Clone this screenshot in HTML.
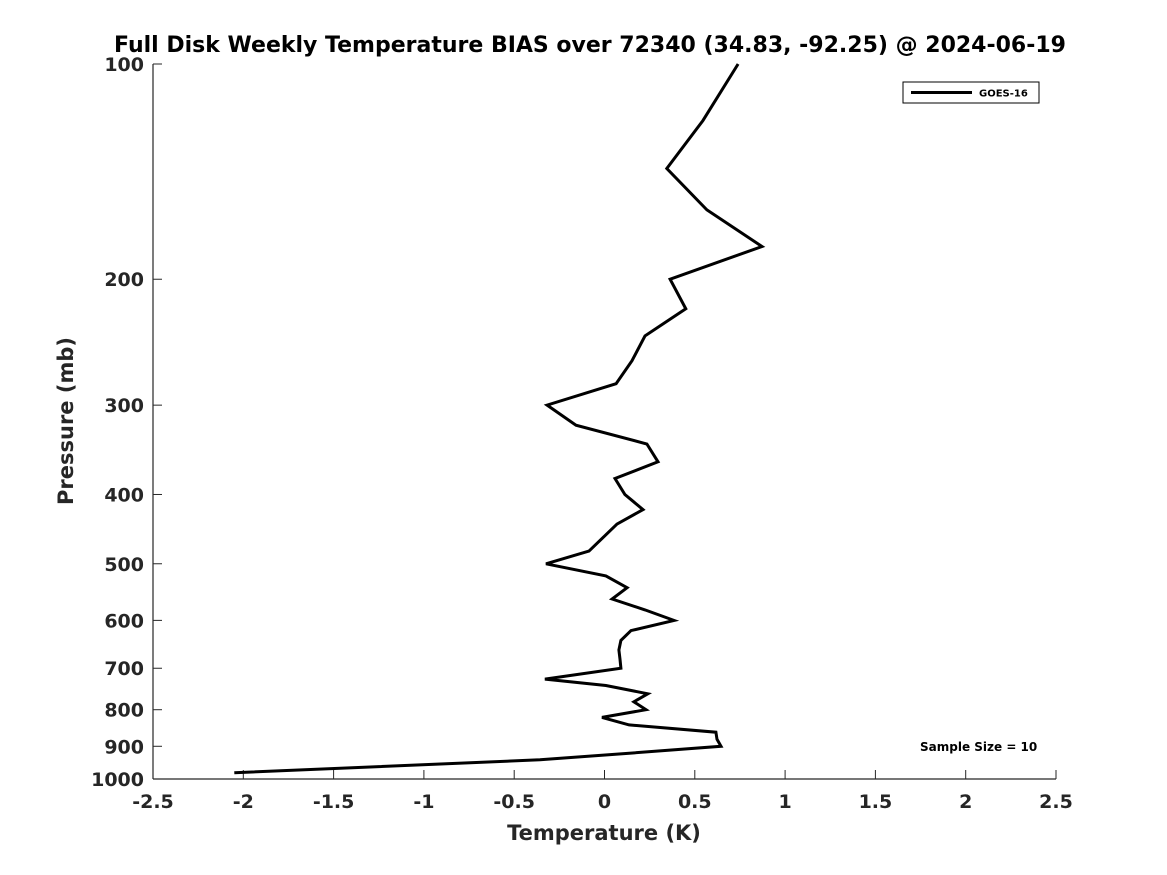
<!DOCTYPE html>
<html><head><meta charset="utf-8"><style>
body{margin:0;background:#fff;}
svg{display:block;font-family:"DejaVu Sans","Liberation Sans",sans-serif;font-weight:bold;}
</style></head><body>
<svg id="c" width="1167" height="875" xmlns="http://www.w3.org/2000/svg">
<rect width="1167" height="875" fill="#fff"/>
<text x="590" y="52" text-anchor="middle" font-size="22" fill="#000">Full Disk Weekly Temperature BIAS over 72340 (34.83, -92.25) @ 2024-06-19</text>
<g id="axes"></g>
<g id="series"></g>
<g>
<rect x="903" y="82" width="136" height="21" fill="#fff" stroke="#000" stroke-width="1"/>
<line x1="911" y1="92.5" x2="972" y2="92.5" stroke="#000" stroke-width="3"/>
<text x="979" y="96.5" font-size="10" fill="#000">GOES-16</text>
</g>
<text x="920" y="751" font-size="12" fill="#000">Sample Size = 10</text>
<text x="604" y="840" text-anchor="middle" font-size="21" fill="#262626">Temperature (K)</text>
<text transform="translate(73,421) rotate(-90)" text-anchor="middle" font-size="21" fill="#262626">Pressure (mb)</text>
</svg>
<script>
const pressures=[100,120,140,160,180,200,220,240,260,280,300,320,340,360,380,400,420,440,480,500,520,540,560,580,600,620,640,660,680,700,725,740,760,780,800,820,840,860,880,900,920,940,980];
const biasGoes16=[0.74,0.545,0.345,0.567,0.872,0.363,0.45,0.224,0.152,0.064,-0.318,-0.158,0.235,0.296,0.058,0.113,0.213,0.069,-0.086,-0.324,0.008,0.125,0.042,0.224,0.385,0.147,0.091,0.08,0.086,0.091,-0.33,0.008,0.24,0.163,0.23,-0.014,0.136,0.617,0.623,0.645,0.147,-0.357,-2.05];
const xTicks=[-2.5,-2,-1.5,-1,-0.5,0,0.5,1,1.5,2,2.5];
const yTicks=[100,200,300,400,500,600,700,800,900,1000];
const X0=153,X1=1056,Y0=64,Y1=779;
const NS="http://www.w3.org/2000/svg";
const xs=v=>X0+(v+2.5)/5*(X1-X0);
const ys=p=>Y0+(Math.log10(p)-2)*(Y1-Y0);
function mk(t,a,parent){const e=document.createElementNS(NS,t);for(const k in a)e.setAttribute(k,a[k]);parent.appendChild(e);return e;}
const ax=document.getElementById('axes');
let l=mk('line',{x1:X0,y1:Y1,x2:X1,y2:Y1,stroke:'#262626','stroke-width':1.2},ax);


l=mk('line',{x1:X0,y1:Y0,x2:X0,y2:Y1,stroke:'#262626','stroke-width':1.2},ax);


xTicks.forEach(v=>{
 const x=xs(v);
 const t=mk('line',{x1:x,y1:Y1,x2:x,y2:Y1-9,stroke:'#262626','stroke-width':1},ax);
 
 
 const tx=mk('text',{x:x,y:Y1+29,'text-anchor':'middle','font-size':19,fill:'#262626'},ax);
 tx.textContent=String(v);
 
 
});
yTicks.forEach(p=>{
 const y=ys(p);
 const t=mk('line',{x1:X0,y1:y,x2:X0+9,y2:y,stroke:'#262626','stroke-width':1},ax);
 
 
 const tx=mk('text',{x:X0-9,y:y+7,'text-anchor':'end','font-size':19,fill:'#262626'},ax);
 tx.textContent=String(p);
 
 
});
const pts=pressures.map((p,i)=>xs(biasGoes16[i]).toFixed(1)+','+ys(p).toFixed(1)).join(' ');
const pl=mk('polyline',{points:pts,fill:'none',stroke:'#000','stroke-width':3,'stroke-linejoin':'miter'},document.getElementById('series'));


</script>
</body></html>
